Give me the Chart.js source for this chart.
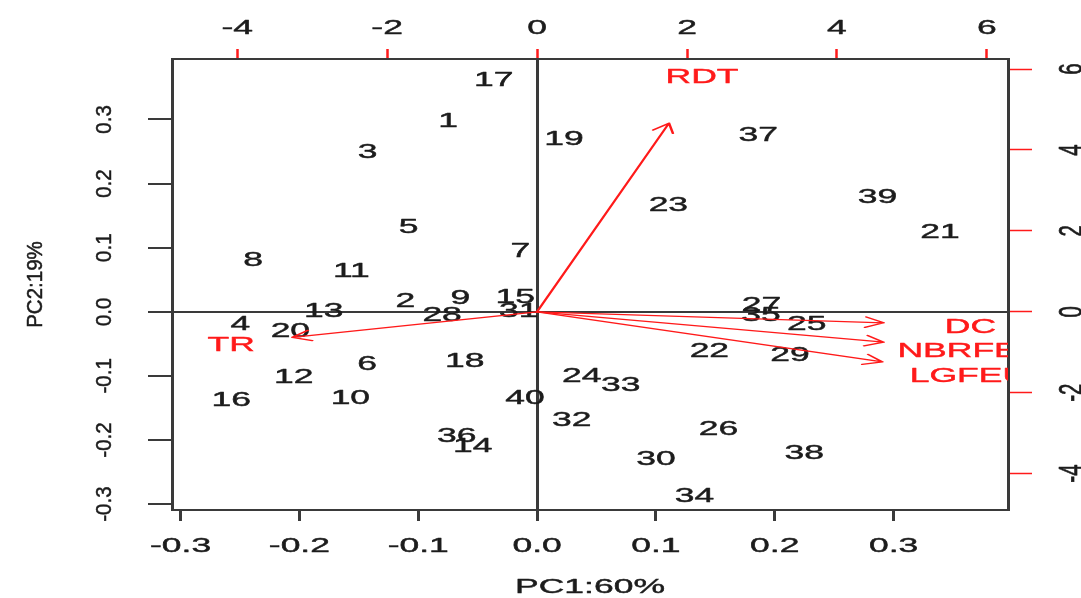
<!DOCTYPE html>
<html>
<head>
<meta charset="utf-8">
<script src="https://cdn.jsdelivr.net/npm/chart.js@4.4.1/dist/chart.umd.min.js"></script>
<style>
  html, body { margin: 0; padding: 0; background: #ffffff; overflow: hidden; }
  canvas { display: block; }
</style>
</head>
<body>
<canvas id="biplot" width="1081" height="598"></canvas>
<script>
// Observation scores on the first two principal components
const obsLabels = ['1','2','3','4','5','6','7','8','9','10',
                   '11','12','13','14','15','16','17','18','19','20',
                   '21','22','23','24','25','26','27','28','29','30',
                   '31','32','33','34','35','36','37','38','39','40'];
const pc1 = [-0.0749, -0.1108, -0.1425, -0.2497, -0.1080, -0.1431, -0.0141, -0.2390, -0.0645, -0.1571,
             -0.1563, -0.2047, -0.1795, -0.0541, -0.0183, -0.2573, -0.0364, -0.0608,  0.0227, -0.2076,
              0.3391,  0.1450,  0.1105,  0.0376,  0.2270,  0.1526,  0.1889, -0.0799,  0.2129,  0.1001,
             -0.0154,  0.0292,  0.0704,  0.1324,  0.1885, -0.0675,  0.1862,  0.2249,  0.2864, -0.0101];
const pc2 = [ 0.2991,  0.0184,  0.2513, -0.0170,  0.1343, -0.0794,  0.0975,  0.0824,  0.0236, -0.1324,
              0.0652, -0.1001,  0.0039, -0.2078,  0.0251, -0.1360,  0.3642, -0.0741,  0.2716, -0.0273,
              0.1260, -0.0596,  0.1681, -0.0986, -0.0170, -0.1808,  0.0133, -0.0023, -0.0647, -0.2276,
              0.0039, -0.1672, -0.1126, -0.2858, -0.0027, -0.1922,  0.2784, -0.2182,  0.1811, -0.1329];

// Variable loadings (label positions); arrows are drawn to 0.8 of these
const varNames = ['RDT', 'DC', 'NBRFEU', 'LGFEU', 'TR'];
const varPC1 = [2.20, 5.78, 5.78, 5.76, -4.08];
const varPC2 = [5.83, -0.34, -0.94, -1.55, -0.79];
const arrowShrink = 0.8;

// Axis ticks and titles
const pcTicks = [-0.3, -0.2, -0.1, 0.0, 0.1, 0.2, 0.3];
const loadTicks = [-4, -2, 0, 2, 4, 6];
const xTitle = 'PC1:60%';
const yTitle = 'PC2:19%';

// Axis limits (scores) and the factor relating loadings to scores
const xLim = [-0.3072, 0.3963];
const yLim = [-0.3092, 0.3943];
const loadRatio = 15.85;

// Drawing style
const FS = 20.5;                 // font size, px
const SX = 1.73;                 // horizontal widening of horizontal text
const GX = 2.0;                  // horizontal widening of arrow geometry
const INK = '#1c1c1c';
const FRAME = '#3a3a3a';
const RED = '#ff1a1a';
const FONT = `${FS}px "Liberation Sans", Arial, Helvetica, sans-serif`;

function paint(ctx, str, color) {
  ctx.font = FONT;
  ctx.fillStyle = color;
  ctx.strokeStyle = color;
  ctx.lineWidth = 0.45;
  ctx.lineJoin = 'round';
  ctx.textAlign = 'center';
  ctx.textBaseline = 'alphabetic';
  ctx.fillText(str, 0, 0.358 * FS);
  ctx.strokeText(str, 0, 0.358 * FS);
}

function hText(ctx, str, x, y, sx, color) {
  ctx.save();
  ctx.translate(x, y);
  ctx.scale(sx, 1);
  paint(ctx, str, color);
  ctx.restore();
}

function vText(ctx, str, x, y, sx, color) {
  ctx.save();
  ctx.translate(x, y);
  ctx.scale(sx, 1);
  ctx.rotate(-Math.PI / 2);
  paint(ctx, str, color);
  ctx.restore();
}

function arrow(ctx, x0, y0, x1, y1) {
  ctx.save();
  ctx.scale(GX, 1);
  const u0 = x0 / GX, u1 = x1 / GX;
  const ang = Math.atan2(y1 - y0, u1 - u0);
  const L = 10.5, w = Math.PI / 6;
  ctx.beginPath();
  ctx.moveTo(u0, y0);
  ctx.lineTo(u1, y1);
  ctx.moveTo(u1 - L * Math.cos(ang - w), y1 - L * Math.sin(ang - w));
  ctx.lineTo(u1, y1);
  ctx.lineTo(u1 - L * Math.cos(ang + w), y1 - L * Math.sin(ang + w));
  ctx.strokeStyle = RED;
  ctx.lineWidth = 1.3;
  ctx.lineCap = 'round';
  ctx.lineJoin = 'round';
  ctx.stroke();
  ctx.restore();
}

const fmtPC = v => (Math.abs(v) < 1e-9 ? 0 : v).toFixed(1);
const fmtLoad = v => String(v);

const biplotLayer = {
  id: 'biplotLayer',
  afterDatasetsDraw(chart) {
    const { ctx, chartArea: a, scales } = chart;

    // Everything inside the plotting frame is clipped to it
    ctx.save();
    ctx.beginPath();
    ctx.rect(a.left, a.top, a.right - a.left, a.bottom - a.top);
    ctx.clip();

    chart.getDatasetMeta(0).data.forEach((el, i) => {
      hText(ctx, obsLabels[i], el.x, el.y, SX, INK);
    });

    const ox = scales.x2.getPixelForValue(0);
    const oy = scales.y2.getPixelForValue(0);
    chart.getDatasetMeta(1).data.forEach((el, i) => {
      arrow(ctx, ox, oy, el.x, el.y);
      hText(ctx, varNames[i],
            scales.x2.getPixelForValue(varPC1[i]),
            scales.y2.getPixelForValue(varPC2[i]), SX, RED);
    });
    ctx.restore();

    // Tick labels of the four axes
    scales.x.ticks.forEach(t => hText(ctx, fmtPC(t.value), scales.x.getPixelForValue(t.value), a.bottom + 35, SX, INK));
    scales.y.ticks.forEach(t => vText(ctx, fmtPC(t.value), a.left - 69, scales.y.getPixelForValue(t.value), 1.08, INK));
    scales.x2.ticks.forEach(t => hText(ctx, fmtLoad(t.value), scales.x2.getPixelForValue(t.value), a.top - 32, SX, INK));
    scales.y2.ticks.forEach(t => vText(ctx, fmtLoad(t.value), a.right + 62, scales.y2.getPixelForValue(t.value), 1.6, INK));

    // Axis titles
    hText(ctx, xTitle, (a.left + a.right) / 2, a.bottom + 76, SX, INK);
    vText(ctx, yTitle, a.left - 138, (a.top + a.bottom) / 2, 1.1, INK);
  }
};

const zeroLine = c => (c.tick && Math.abs(c.tick.value) < 1e-9) ? FRAME : 'rgba(0,0,0,0)';

new Chart(document.getElementById('biplot'), {
  type: 'scatter',
  data: {
    datasets: [
      {
        label: 'observations',
        data: pc1.map((x, i) => ({ x: x, y: pc2[i] })),
        xAxisID: 'x', yAxisID: 'y',
        pointRadius: 0, pointHoverRadius: 0
      },
      {
        label: 'variables',
        data: varPC1.map((x, i) => ({ x: x * arrowShrink, y: varPC2[i] * arrowShrink })),
        xAxisID: 'x2', yAxisID: 'y2',
        pointRadius: 0, pointHoverRadius: 0
      }
    ]
  },
  options: {
    responsive: false,
    animation: false,
    devicePixelRatio: 1,
    events: [],
    layout: { padding: 0 },
    plugins: { legend: { display: false }, tooltip: { enabled: false } },
    scales: {
      x: {
        type: 'linear', position: 'bottom',
        min: xLim[0], max: xLim[1],
        afterBuildTicks: s => { s.ticks = pcTicks.map(v => ({ value: v })); },
        afterFit: s => { s.height = 88; },
        ticks: { display: false },
        grid: { color: zeroLine, lineWidth: 3, tickColor: FRAME, tickWidth: 3, tickLength: 11, drawTicks: true },
        border: { color: FRAME, width: 2 }
      },
      y: {
        type: 'linear', position: 'left',
        min: yLim[0], max: yLim[1],
        afterBuildTicks: s => { s.ticks = pcTicks.map(v => ({ value: v })); },
        afterFit: s => { s.width = 172; },
        ticks: { display: false },
        grid: { color: zeroLine, lineWidth: 2, tickColor: FRAME, tickWidth: 2, tickLength: 24, drawTicks: true },
        border: { color: FRAME, width: 3 }
      },
      x2: {
        type: 'linear', position: 'top',
        min: xLim[0] * loadRatio, max: xLim[1] * loadRatio,
        afterBuildTicks: s => { s.ticks = loadTicks.map(v => ({ value: v })); },
        afterFit: s => { s.height = 59; },
        ticks: { display: false },
        grid: { drawOnChartArea: false, color: RED, tickColor: RED, tickWidth: 2.5, tickLength: 10, drawTicks: true },
        border: { color: FRAME, width: 2 }
      },
      y2: {
        type: 'linear', position: 'right',
        min: yLim[0] * loadRatio, max: yLim[1] * loadRatio,
        afterBuildTicks: s => { s.ticks = loadTicks.map(v => ({ value: v })); },
        afterFit: s => { s.width = 73; },
        ticks: { display: false },
        grid: { drawOnChartArea: false, color: RED, tickColor: RED, tickWidth: 1.5, tickLength: 24, drawTicks: true },
        border: { color: FRAME, width: 3 }
      }
    }
  },
  plugins: [biplotLayer]
});
</script>
</body>
</html>
